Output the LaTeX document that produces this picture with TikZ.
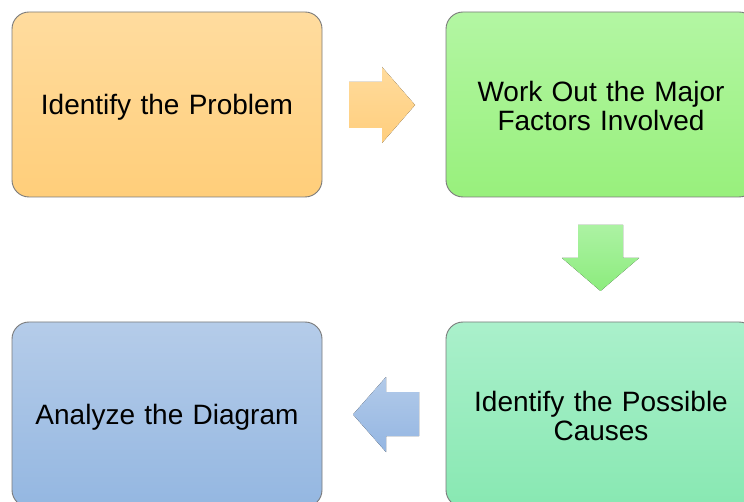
\documentclass[tikz,border=0pt]{standalone}
\usepackage{fontspec}
\setmainfont{Liberation Sans}
\begin{document}
\begin{tikzpicture}[x=1pt,y=-1pt,
  stepbox/.style={rectangle, rounded corners=17pt, draw=black!52, line width=0.9pt,
    minimum width=310pt, minimum height=185pt, inner sep=0pt},
  steptext/.style={inner sep=0pt, text width=300pt, align=center,
    font=\fontsize{28}{28.5}\selectfont},
  flowarrow/.style={draw=none}]
\useasboundingbox (0,0) rectangle (744,502);
\clip (0,0) rectangle (744,502);

% four steps
\node[stepbox, top color={rgb,255:red,255;green,220;blue,159}, bottom color={rgb,255:red,255;green,206;blue,122}]
  (problem) at (167,104.5) {};
\node[stepbox, top color={rgb,255:red,179;green,246;blue,163}, bottom color={rgb,255:red,152;green,240;blue,124}]
  (factors) at (601,104.5) {};
\node[stepbox, top color={rgb,255:red,170;green,240;blue,203}, bottom color={rgb,255:red,136;green,232;blue,178}]
  (causes) at (601,414.5) {};
\node[stepbox, top color={rgb,255:red,181;green,204;blue,233}, bottom color={rgb,255:red,148;green,183;blue,225}]
  (analyze) at (167,414.5) {};

% step captions
\node[steptext] (problemtext) at ([yshift=-2.5pt]problem.center) {Identify the Problem};
\node[steptext] (factorstext) at ([yshift=-1.5pt]factors.center) {Work Out the Major\\Factors Involved};
\node[steptext] (causestext) at ([yshift=-1.5pt]causes.center) {Identify the Possible\\Causes};
\node[steptext] (analyzetext) at ([yshift=-2.5pt]analyze.center) {Analyze the Diagram};

% block arrows between the steps
\fill[flowarrow, top color={rgb,255:red,255;green,219;blue,156}, bottom color={rgb,255:red,255;green,206;blue,125}]
  (349,82) -- (382,82) -- (382,67) -- (415,105) -- (382,143) -- (382,128) -- (349,128) -- cycle;
\fill[flowarrow, top color={rgb,255:red,172;green,242;blue,163}, bottom color={rgb,255:red,140;green,236;blue,125}]
  (578,225) -- (623,225) -- (623,258) -- (639,258) -- (600.5,291) -- (562,258) -- (578,258) -- cycle;
\fill[flowarrow, top color={rgb,255:red,178;green,202;blue,233}, bottom color={rgb,255:red,148;green,182;blue,226}]
  (419,392) -- (386,392) -- (386,377) -- (353,414.5) -- (386,452) -- (386,436) -- (419,436) -- cycle;
\end{tikzpicture}
\end{document}
